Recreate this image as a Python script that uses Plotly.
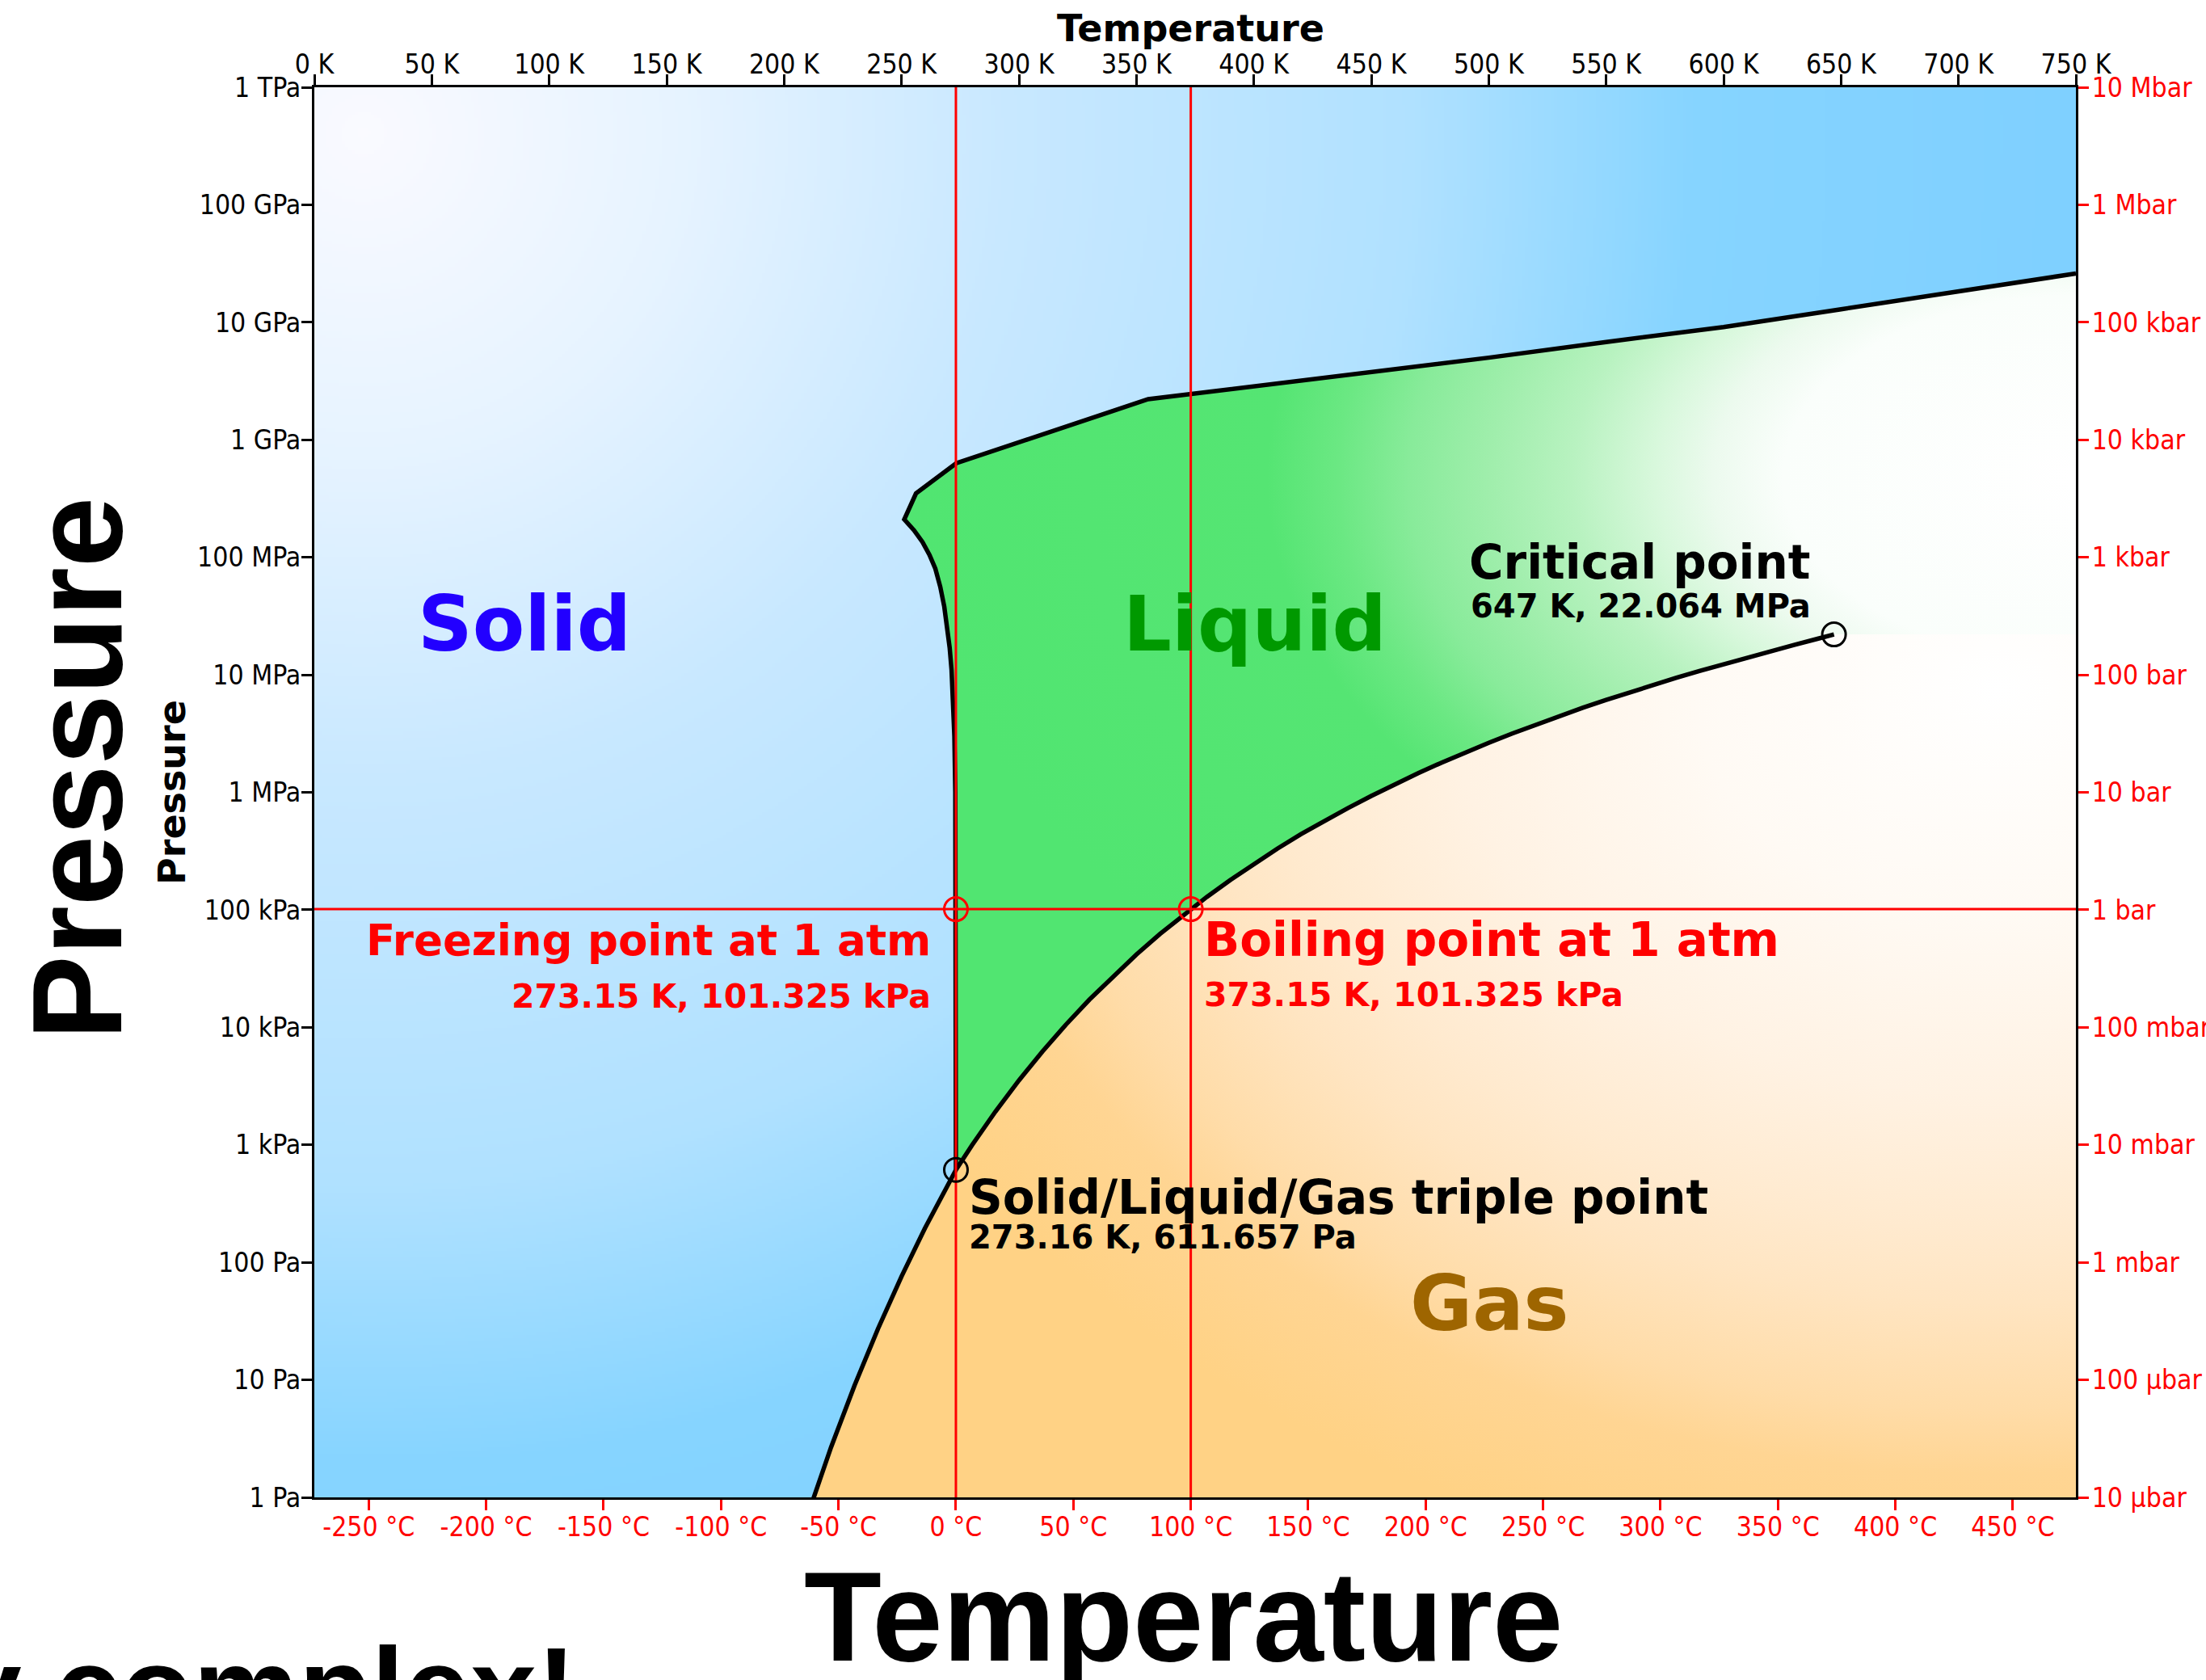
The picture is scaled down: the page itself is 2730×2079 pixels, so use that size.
import base64
import struct
import zlib

import numpy as np
import plotly.graph_objects as go

# ---------------------------------------------------------------- data ----
T_MIN, T_MAX = 0.0, 750.0          # K
P_MIN, P_MAX = 1.0, 1e12           # Pa

KELVIN_TICKS = list(range(0, 751, 50))
CELSIUS_TICKS = list(range(-250, 451, 50))
PRESSURE_TICKS = [1e0, 1e1, 1e2, 1e3, 1e4, 1e5, 1e6, 1e7, 1e8, 1e9, 1e10, 1e11, 1e12]
PA_LABELS = ["1 Pa", "10 Pa", "100 Pa", "1 kPa", "10 kPa", "100 kPa", "1 MPa",
             "10 MPa", "100 MPa", "1 GPa", "10 GPa", "100 GPa", "1 TPa"]
BAR_LABELS = ["10 \u00b5bar", "100 \u00b5bar", "1 mbar", "10 mbar", "100 mbar", "1 bar",
              "10 bar", "100 bar", "1 kbar", "10 kbar", "100 kbar", "1 Mbar", "10 Mbar"]

# solid / gas boundary (sublimation)
SUBLIMATION_T = [200.0, 210.0, 220.0, 230.0, 240.0, 250.0, 260.0, 270.0, 273.16]
SUBLIMATION_P = [0.1627, 0.7016, 2.672, 8.970, 27.27, 75.95, 195.8, 470.1, 611.657]

# liquid / gas boundary (vaporization), ends at the critical point
VAPORIZATION_T = [273.16, 280.0, 290.0, 300.0, 310.0, 320.0, 330.0, 340.0, 350.0, 360.0,
                  373.15, 380.0, 390.0, 400.0, 410.0, 420.0, 430.0, 440.0, 450.0, 460.0,
                  470.0, 480.0, 490.0, 500.0, 510.0, 520.0, 530.0, 540.0, 550.0, 560.0,
                  570.0, 580.0, 590.0, 600.0, 610.0, 620.0, 630.0, 640.0, 647.0]
VAPORIZATION_P = [611.657, 991.8, 1920.0, 3537.0, 6231.0, 10546.0, 17213.0, 27188.0,
                  41682.0, 62194.0, 101325.0, 128850.0, 179480.0, 245770.0, 331330.0,
                  440240.0, 570300.0, 733800.0, 932000.0, 1.1708e6, 1.4551e6, 1.7905e6,
                  2.1829e6, 2.6392e6, 3.1654e6, 3.769e6, 4.4569e6, 5.2369e6, 6.1172e6,
                  7.1062e6, 8.2132e6, 9.448e6, 1.0821e7, 1.2345e7, 1.4033e7, 1.5901e7,
                  1.7969e7, 2.0265e7, 2.2064e7]

# solid / liquid boundary (melting), through the ice III, V, VI and VII triple points
MELTING_T = [273.16, 273.15, 272.9, 272.5, 272.0, 271.3, 270.5, 269.6, 268.2, 266.5,
             264.4, 261.9, 258.9, 255.3, 251.165, 256.164, 273.31, 355.0, 400.0, 450.0,
             500.0, 550.0, 600.0, 650.0, 700.0, 750.0]
MELTING_P = [611.657, 101325.0, 1.0e6, 3.0e6, 6.5e6, 1.1e7, 1.7e7, 2.5e7, 3.8e7, 5.6e7,
             8.0e7, 1.05e8, 1.35e8, 1.7e8, 2.099e8, 3.501e8, 6.324e8, 2.216e9, 2.85e9,
             3.7e9, 5.0e9, 6.8e9, 9.1e9, 1.29e10, 1.83e10, 2.6e10]

TRIPLE_T, TRIPLE_P = 273.16, 611.657
CRITICAL_T, CRITICAL_P = 647.0, 22.064e6
FREEZE_T, BOIL_T, ATM_P = 273.15, 373.15, 101325.0

# -------------------------------------------------------------- layout ----
FIG_W, FIG_H = 2730, 2079
M_L, M_R, M_T, M_B = 389, 161, 108, 226
PLOT_W = FIG_W - M_L - M_R
PLOT_H = FIG_H - M_T - M_B
LOG_MIN, LOG_MAX = np.log10(P_MIN), np.log10(P_MAX)

RED = "#ff0000"
TICK_FONT = "DejaVu Sans Condensed, DejaVu Sans"
TICK_SIZE = 33.5
LABEL_FONT = "DejaVu Sans"
BIG_FONT = "Liberation Sans, Arial, sans-serif"

# centre of the whitening glow of each fluid region, and the liquid glow's vertical radius (px)
LIQUID_GLOW = (750.0, 4.8e8)
LIQUID_GLOW_RY = 900
GAS_GLOW = (716.6, 7.5e6)


def x_px(t):
    return M_L + (t - T_MIN) / (T_MAX - T_MIN) * PLOT_W


def y_px(p):
    return M_T + (LOG_MAX - np.log10(p)) / (LOG_MAX - LOG_MIN) * PLOT_H


def t_at(px):
    return T_MIN + (px - M_L) / PLOT_W * (T_MAX - T_MIN)


def p_at(py):
    return 10 ** (LOG_MAX - (py - M_T) / PLOT_H * (LOG_MAX - LOG_MIN))


def paper_x(px):
    return (px - M_L) / PLOT_W


def paper_y(py):
    return (M_T + PLOT_H - py) / PLOT_H


def png_uri(rgb):
    """Encode an (h, w, 3) uint8 array as a PNG data URI."""
    h, w, _ = rgb.shape
    raw = b"".join(b"\x00" + rgb[i].tobytes() for i in range(h))

    def chunk(tag, data):
        body = tag + data
        return struct.pack(">I", len(data)) + body + struct.pack(">I", zlib.crc32(body) & 0xFFFFFFFF)

    png = (b"\x89PNG\r\n\x1a\n"
           + chunk(b"IHDR", struct.pack(">IIBBBBB", w, h, 8, 2, 0, 0, 0))
           + chunk(b"IDAT", zlib.compress(raw, 9))
           + chunk(b"IEND", b""))
    return "data:image/png;base64," + base64.b64encode(png).decode()


def ice_backdrop(w=545, h=437):
    """Soft radial blue glow for the solid (ice) background."""
    ys, xs = np.mgrid[0:h, 0:w]
    fx = (xs + 0.5) * PLOT_W / w
    fy = (ys + 0.5) * PLOT_H / h
    d = np.hypot(fx - 61.0, fy - 57.0)
    stop_d = [0, 400, 800, 1300, 1650, 2300]
    stop_rgb = [(250, 250, 255), (230, 243, 255), (200, 232, 255),
                (176, 225, 255), (134, 212, 255), (124, 206, 255)]
    img = np.zeros((h, w, 3), dtype=np.uint8)
    for c in range(3):
        img[..., c] = np.interp(d, stop_d, [s[c] for s in stop_rgb]).round().astype(np.uint8)
    return png_uri(img)


fig = go.Figure()

# Radial fill gradients are centred on the shape's bounding box, so each region
# gets an extra loop beyond the right-hand edge (outside the visible plot) that
# places the box centre on its glow point.

# liquid region: melting curve up, out past the right edge, back along the boiling curve
lcx, lcy = x_px(LIQUID_GLOW[0]), y_px(LIQUID_GLOW[1])
l_half = lcx - x_px(min(MELTING_T))
l_far, l_top, l_bot = t_at(lcx + l_half), p_at(lcy - LIQUID_GLOW_RY), p_at(lcy + LIQUID_GLOW_RY)
liq_T = MELTING_T + [l_far, l_far, T_MAX, T_MAX] + VAPORIZATION_T[::-1]
liq_P = MELTING_P + [l_top, l_bot, l_bot, CRITICAL_P] + VAPORIZATION_P[::-1]
fig.add_trace(go.Scatter(
    x=liq_T, y=liq_P, mode="lines", fill="toself", line=dict(width=0),
    fillgradient=dict(type="radial",
                      colorscale=[[0.0, "#ffffff"], [0.25, "#fafefb"], [0.31, "#ecfaee"],
                                  [0.36, "#d8f8dc"], [0.43, "#b8f2c0"], [0.5, "#a0eeac"],
                                  [0.57, "#88eb9a"], [0.63, "#6be883"], [0.69, "#55e573"],
                                  [1.0, "#51e571"]]),
    hoverinfo="skip", showlegend=False))

# gas region: under the sublimation and boiling curves
gcx, gcy = x_px(GAS_GLOW[0]), y_px(GAS_GLOW[1])
g_half_w = gcx - x_px(SUBLIMATION_T[0])
g_half_h = y_px(SUBLIMATION_P[0]) - gcy
g_far, g_top = t_at(gcx + g_half_w), p_at(gcy - g_half_h)
gas_T = SUBLIMATION_T + VAPORIZATION_T[1:] + [T_MAX, g_far, g_far, SUBLIMATION_T[0]]
gas_P = SUBLIMATION_P + VAPORIZATION_P[1:] + [CRITICAL_P, g_top, SUBLIMATION_P[0],
                                              SUBLIMATION_P[0]]
fig.add_trace(go.Scatter(
    x=gas_T, y=gas_P, mode="lines", fill="toself", line=dict(width=0),
    fillgradient=dict(type="radial",
                      colorscale=[[0.0, "#ffffff"], [0.25, "#fffaf4"], [0.45, "#fff2e3"],
                                  [0.6, "#ffeacf"], [0.68, "#ffe5c2"], [0.8, "#ffdca8"],
                                  [0.87, "#ffd593"], [1.0, "#ffd285"]]),
    hoverinfo="skip", showlegend=False))

# phase boundaries
for xs, ys in [(SUBLIMATION_T, SUBLIMATION_P), (VAPORIZATION_T, VAPORIZATION_P),
               (MELTING_T, MELTING_P)]:
    fig.add_trace(go.Scatter(x=xs, y=ys, mode="lines", line=dict(color="black", width=5.5),
                             hoverinfo="skip", showlegend=False))

# 1 atm guide lines
for t in (FREEZE_T, BOIL_T):
    fig.add_trace(go.Scatter(x=[t, t], y=[P_MIN, P_MAX], mode="lines",
                             line=dict(color=RED, width=3), hoverinfo="skip", showlegend=False))
fig.add_trace(go.Scatter(x=[T_MIN, T_MAX], y=[ATM_P, ATM_P], mode="lines",
                         line=dict(color=RED, width=3), hoverinfo="skip", showlegend=False))

# marked points
fig.add_trace(go.Scatter(x=[FREEZE_T, BOIL_T], y=[ATM_P, ATM_P], mode="markers",
                         marker=dict(symbol="circle-open", size=29, color=RED, line=dict(width=3)),
                         hoverinfo="skip", showlegend=False, cliponaxis=False))
fig.add_trace(go.Scatter(x=[TRIPLE_T, CRITICAL_T], y=[TRIPLE_P, CRITICAL_P], mode="markers",
                         marker=dict(symbol="circle-open", size=29, color="black",
                                     line=dict(width=3)),
                         hoverinfo="skip", showlegend=False, cliponaxis=False))

# carrier for the kelvin / bar axes
fig.add_trace(go.Scatter(x=[T_MIN, T_MAX], y=[P_MIN, P_MAX], xaxis="x2", yaxis="y2",
                         mode="markers", marker=dict(opacity=0), hoverinfo="skip",
                         showlegend=False))

axis_common = dict(showgrid=False, zeroline=False, showline=True, linecolor="black",
                   linewidth=3, ticks="outside", ticklen=13, tickwidth=2.5, mirror=False,
                   automargin=False)

fig.update_layout(
    width=FIG_W, height=FIG_H, autosize=False,
    margin=dict(l=M_L, r=M_R, t=M_T, b=M_B, pad=0, autoexpand=False),
    paper_bgcolor="white", plot_bgcolor="rgba(0,0,0,0)", showlegend=False,
    xaxis=dict(range=[T_MIN, T_MAX], tickmode="array",
               tickvals=[c + 273.15 for c in CELSIUS_TICKS],
               ticktext=[f"{c} \u00b0C" for c in CELSIUS_TICKS],
               tickcolor=RED, tickfont=dict(family=TICK_FONT, size=TICK_SIZE, color=RED),
               ticklabelstandoff=-8, **axis_common),
    xaxis2=dict(range=[T_MIN, T_MAX], overlaying="x", side="top", anchor="y",
                tickmode="array", tickvals=KELVIN_TICKS,
                ticktext=[f"{k} K" for k in KELVIN_TICKS],
                tickcolor="black",
                tickfont=dict(family=TICK_FONT, size=TICK_SIZE, color="black"),
                ticklabelstandoff=-12, **axis_common),
    yaxis=dict(type="log", range=[LOG_MIN, LOG_MAX], tickmode="array",
               tickvals=PRESSURE_TICKS, ticktext=PA_LABELS, tickcolor="black",
               tickfont=dict(family=TICK_FONT, size=TICK_SIZE, color="black"),
               ticklabelstandoff=-6, **axis_common),
    yaxis2=dict(type="log", range=[LOG_MIN, LOG_MAX], overlaying="y",
                side="right", anchor="x", tickmode="array", tickvals=PRESSURE_TICKS,
                ticktext=BAR_LABELS, tickcolor=RED,
                tickfont=dict(family=TICK_FONT, size=TICK_SIZE, color=RED),
                ticklabelstandoff=-3, **axis_common),
    images=[dict(source=ice_backdrop(), xref="paper", yref="paper", x=0, y=1,
                 sizex=1, sizey=1, sizing="stretch", xanchor="left", yanchor="top",
                 layer="below")],
)


def label(text, px, py, size, color="black", xanchor="center", family=LABEL_FONT,
          angle=0):
    fig.add_annotation(text=text, x=paper_x(px), y=paper_y(py), xref="paper", yref="paper",
                       xanchor=xanchor, yanchor="middle", showarrow=False, textangle=angle,
                       font=dict(family=family, size=size, color=color, weight="bold"))


# region names
label("Solid", 649, 772, 94, "#2200ff")
label("Liquid", 1553, 772, 94, "#009900")
label("Gas", 1843, 1613, 94, "#9e6500")

# point callouts
label("Critical point", 2243, 696, 58, xanchor="right")
label(f"{CRITICAL_T:g} K, {CRITICAL_P / 1e6:.3f} MPa", 2243, 750, 40, xanchor="right")
label("Freezing point at 1 atm", 1154, 1163, 53, RED, xanchor="right")
label(f"{FREEZE_T:.2f} K, {ATM_P / 1e3:.3f} kPa", 1154, 1233, 41, RED, xanchor="right")
label("Boiling point at 1 atm", 1488, 1163, 58, RED, xanchor="left")
label(f"{BOIL_T:.2f} K, {ATM_P / 1e3:.3f} kPa", 1488, 1231, 41, RED, xanchor="left")
label("Solid/Liquid/Gas triple point", 1197, 1482, 58, xanchor="left")
label(f"{TRIPLE_T:.2f} K, {TRIPLE_P:.3f} Pa", 1197, 1531, 40, xanchor="left")

# axis titles
label("Temperature", 1473, 35, 46)
label("Pressure", 213, 981, 46, angle=-90)
label("Temperature", 1464, 2000, 157, family=BIG_FONT)
label("Pressure", 96, 951, 157, family=BIG_FONT, angle=-90)
label("Very complex!", 715, 2090, 147, xanchor="right", family=BIG_FONT)

fig.write_html("out.html")
